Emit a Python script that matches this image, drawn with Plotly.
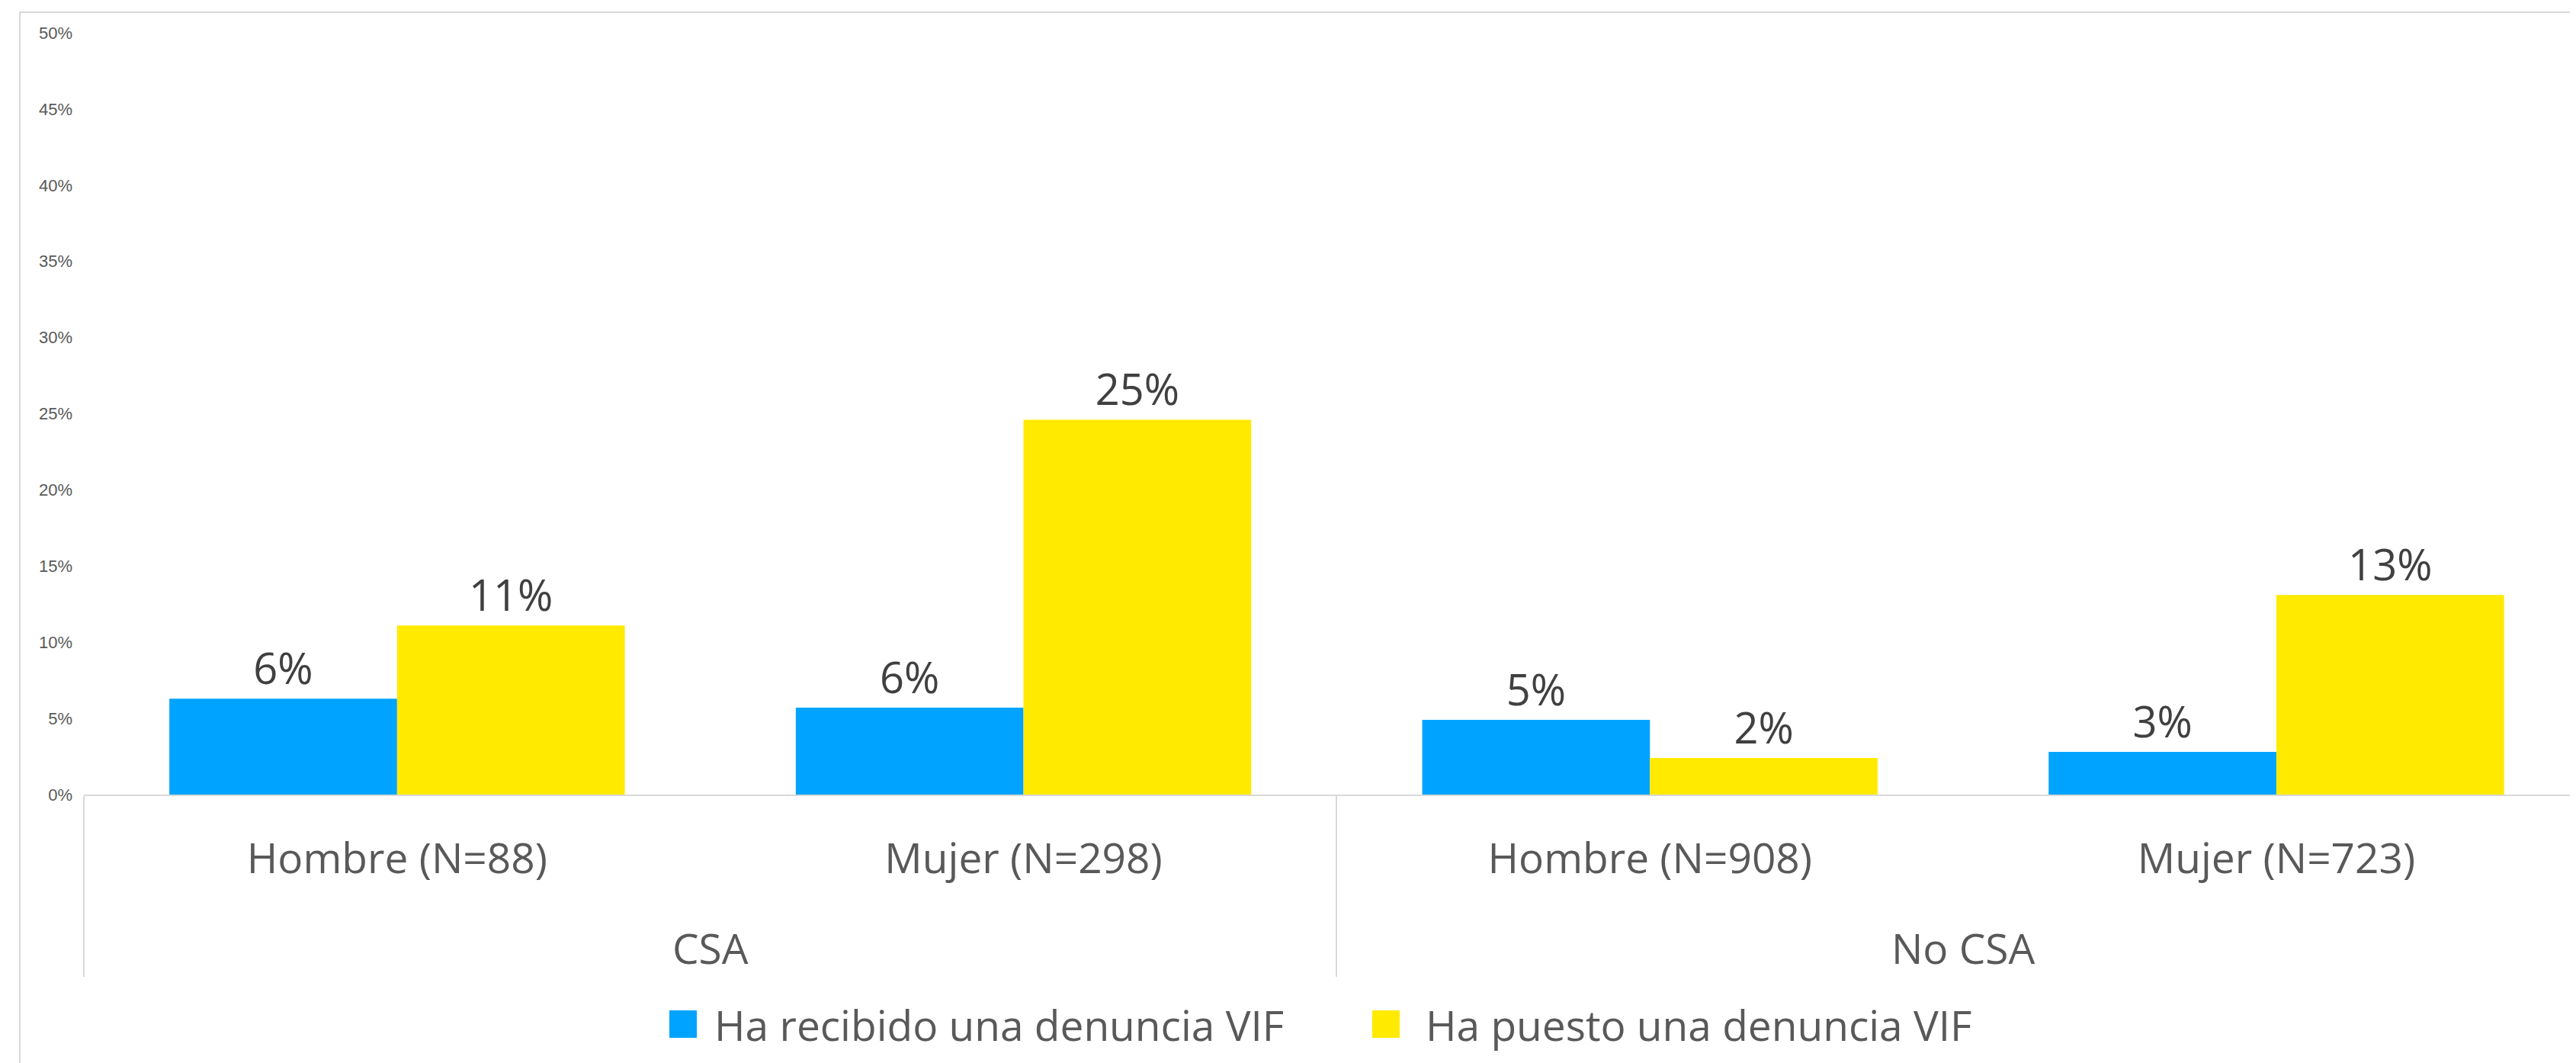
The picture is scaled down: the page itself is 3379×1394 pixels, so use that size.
import plotly.graph_objects as go

# ---- data ----
groups = ["CSA", "CSA", "No CSA", "No CSA"]
subgroups = ["Hombre (N=88)", "Mujer (N=298)", "Hombre (N=908)", "Mujer (N=723)"]
series_names = ["Ha recibido una denuncia VIF", "Ha puesto una denuncia VIF"]
recibido = [0.063, 0.057, 0.049, 0.028]
puesto = [0.111, 0.246, 0.024, 0.131]
y_tick_vals = [0, 0.05, 0.10, 0.15, 0.20, 0.25, 0.30, 0.35, 0.40, 0.45, 0.50]
y_tick_text = ["0%", "5%", "10%", "15%", "20%", "25%", "30%", "35%", "40%", "45%", "50%"]

colors = ["#00A3FF", "#FFEA00"]
W, H = 3379, 1394
OFF = 8  # page body margin
ML, MR, MT, MB = 102, 0, 35, 360
PW, PH = W - ML - MR, H - MT - MB
CAT_W = 821.7
x_end = -0.5 + PW / CAT_W

def px_x(x):
    return (x - OFF - ML) / PW

def px_y(y):
    return (H - MB - (y - OFF)) / PH

# spacer spans enlarge the first-level label box so the group level sits lower
SP = '<span style="font-size:111px">\u00a0</span>'
sub_labels = [SP + s + SP for s in subgroups]

fig = go.Figure()
for name, vals, col in zip(series_names, [recibido, puesto], colors):
    fig.add_trace(go.Bar(
        x=[groups, sub_labels], y=vals, name=name,
        marker=dict(color=col, line=dict(width=0)),
        texttemplate="%{y:.0%}", textposition="outside",
        textfont=dict(family="Open Sans", size=56, color="#404040"),
        cliponaxis=False, showlegend=False,
    ))

fig.update_layout(
    width=W, height=H,
    margin=dict(l=ML, r=MR, t=MT, b=MB),
    paper_bgcolor="white", plot_bgcolor="white",
    barmode="group", bargap=0.273, bargroupgap=0,
    showlegend=False,
    xaxis=dict(
        type="multicategory", range=[-0.5, x_end],
        showline=True, linecolor="#D9D9D9", linewidth=2,
        showgrid=False, ticks="", zeroline=False,
        tickfont=dict(family="Open Sans", size=55, color="#595959"),
        ticklabelstandoff=35,
        showdividers=True, dividercolor="#D9D9D9", dividerwidth=2,
    ),
    yaxis=dict(
        range=[0, 0.5], tickvals=y_tick_vals, ticktext=y_tick_text,
        showgrid=False, zeroline=False, showline=False, ticks="",
        tickfont=dict(family="Liberation Sans", size=22, color="#595959"),
        ticklabelstandoff=14,
    ),
)

# chart-area border (only top and left edges visible in the crop)
fig.add_shape(type="rect", xref="paper", yref="paper",
              x0=px_x(26), x1=px_x(W + 40), y0=px_y(H + 40), y1=px_y(16),
              line=dict(color="#D9D9D9", width=2), fillcolor="rgba(0,0,0,0)", layer="below")

# custom legend
leg = [(878, 935), (1800, 1868)]
for (sx, tx), name, col in zip(leg, series_names, colors):
    fig.add_shape(type="rect", xref="paper", yref="paper",
                  x0=px_x(sx), x1=px_x(sx + 36), y0=px_y(1361), y1=px_y(1325),
                  line=dict(width=0), fillcolor=col)
    fig.add_annotation(xref="paper", yref="paper", x=px_x(tx), y=px_y(1343),
                       xanchor="left", yanchor="middle", showarrow=False,
                       text=name, font=dict(family="Open Sans", size=55, color="#595959"))

fig.write_html("out.html")
